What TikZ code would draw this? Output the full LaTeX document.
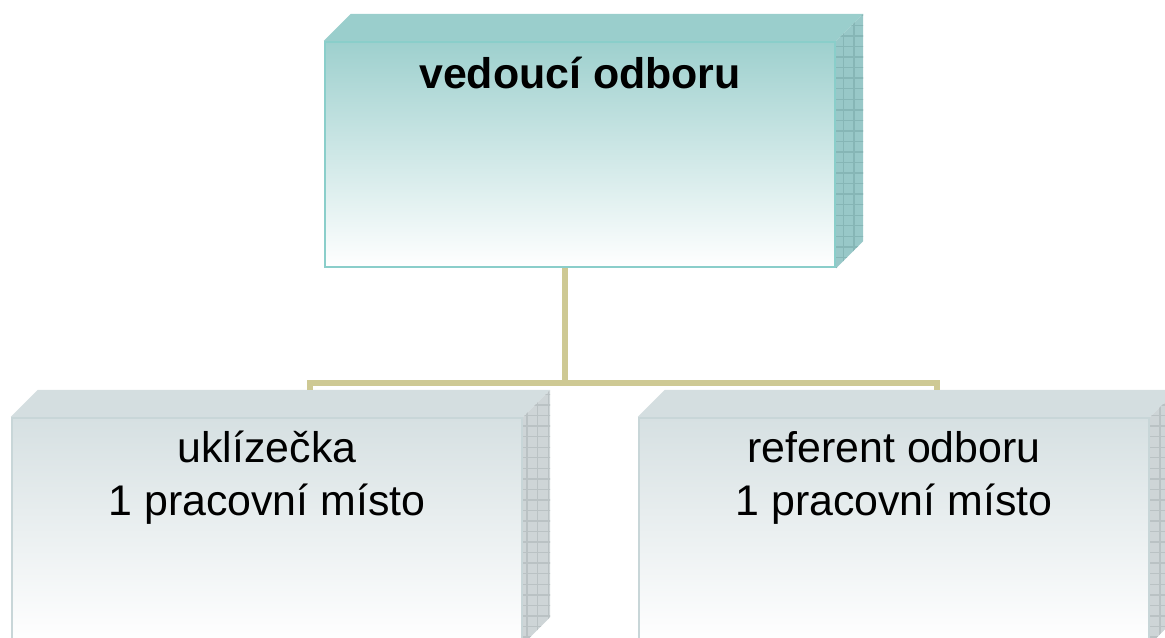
\documentclass[tikz,border=0pt]{standalone}
\usepackage{fontspec}
\setmainfont{Liberation Sans}
\usetikzlibrary{patterns,positioning}
\definecolor{tyrkysTop}{RGB}{158,208,206}
\definecolor{tyrkysFace}{RGB}{154,206,204}
\definecolor{tyrkysSide}{RGB}{152,200,200}
\definecolor{tyrkysGrid}{RGB}{134,182,182}
\definecolor{tyrkysEdge}{RGB}{138,206,202}
\definecolor{sedaTop}{RGB}{214,224,226}
\definecolor{sedaFace}{RGB}{212,222,224}
\definecolor{sedaSide}{RGB}{206,213,215}
\definecolor{sedaGrid}{RGB}{186,194,196}
\definecolor{sedaEdge}{RGB}{200,214,216}
\definecolor{spojka}{RGB}{206,201,148}
\tikzset{
  krabice/.style={draw=#1Edge, line width=0.7pt, minimum width=5.1cm,
    minimum height=2.25cm, inner sep=0pt, shading=axis,
    top color=#1Top, bottom color=white},
  strecha/.style={fill=#1Face},
  bok/.style={fill=#1Side},
  mrizka/.style={pattern=grid, pattern color=#1Grid},
  spoj/.style={draw=spojka, line width=1.6pt},
  popis/.style={font=\fontsize{12.2}{15.1}\selectfont, align=center, inner sep=0pt},
}
\newcommand{\hloubka}[2]{%
  \fill[strecha=#2] (#1.north west) -- ++(0.27,0.27)
    -- ([shift={(0.27,0.27)}]#1.north east) -- (#1.north east) -- cycle;
  \fill[bok=#2] (#1.north east) -- ++(0.27,0.27)
    -- ([shift={(0.27,0.27)}]#1.south east) -- (#1.south east) -- cycle;
  \fill[mrizka=#2] (#1.north east) -- ++(0.27,0.27)
    -- ([shift={(0.27,0.27)}]#1.south east) -- (#1.south east) -- cycle;
}
\begin{document}
\begin{tikzpicture}
  \clip (0,0) rectangle (11.65,6.37);
  \node[krabice=tyrkys] (vedouci) at (5.80,4.825) {};
  \node[krabice=seda] (uklizecka) at (2.67,1.065) {};
  \node[krabice=seda] (referent) at (8.94,1.065) {};
  \hloubka{vedouci}{tyrkys}
  \hloubka{uklizecka}{seda}
  \hloubka{referent}{seda}
  \node[popis, font=\fontsize{12.2}{15.1}\selectfont\bfseries, anchor=base]
    (vedouciText) at ([yshift=-0.48cm]vedouci.north) {vedoucí odboru};
  \node[popis, anchor=base] (uklizeckaText) at ([yshift=-0.99cm]uklizecka.north)
    {uklízečka\\1 pracovní místo};
  \node[popis, anchor=base] (referentText) at ([yshift=-0.99cm]referent.north)
    {referent odboru\\1 pracovní místo};
  \coordinate (uklizeckaTop) at ([shift={(0.43,0.27)}]uklizecka.north);
  \coordinate (referentTop) at ([shift={(0.43,0.27)}]referent.north);
  \draw[spoj] ([xshift=-0.15cm]vedouci.south) -- ++(0,-1.15) coordinate (rozcesti);
  \draw[spoj] (uklizeckaTop) |- (rozcesti) -| (referentTop);
\end{tikzpicture}
\end{document}
